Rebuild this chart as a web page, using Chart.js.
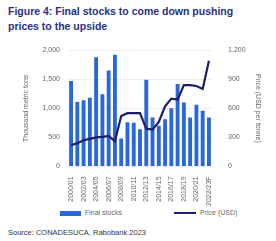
<!DOCTYPE html>
<html>
<head>
<meta charset="utf-8">
<script src="https://cdn.jsdelivr.net/npm/chart.js@4.4.0/dist/chart.umd.min.js"></script>
<style>
  html, body { margin: 0; padding: 0; background: #fff; }
  body { width: 276px; height: 241px; position: relative; overflow: hidden; font-family: "Liberation Sans", Arial, sans-serif; }
  #title { position: absolute; left: 8px; top: 4px; width: 265px; font-size: 10.5px; font-weight: bold; line-height: 15px; color: #2b2f86; }
  #source { position: absolute; left: 8px; top: 228px; font-size: 7.5px; color: #333; }
  #wrap { position: absolute; left: 0; top: 38px; width: 276px; height: 170px; }
  .lg { position: absolute; top: 209px; font-size: 7px; color: #666; line-height: 8px; }
  .lg i { display: inline-block; vertical-align: middle; margin-right: 4px; }
</style>
</head>
<body>
<div id="title">Figure 4: Final stocks to come down pushing<br>prices to the upside</div>
<div id="wrap"><canvas id="chart"></canvas></div>
<div class="lg" style="left:60px"><i style="width:21px;height:5px;background:#2a66dc"></i>Final stocks</div>
<div class="lg" style="left:174px"><i style="width:22px;height:2px;background:#1b1f6b"></i>Price (USD)</div>
<div id="source">Source: CONADESUCA, Rabobank 2023</div>
<script>
// marketing years 2000/01 .. 2022/23F
const seasons = [
  "2000/01", "2001/02", "2002/03", "2003/04", "2004/05", "2005/06", "2006/07", "2007/08",
  "2008/09", "2009/10", "2010/11", "2011/12", "2012/13", "2013/14", "2014/15", "2015/16",
  "2016/17", "2017/18", "2018/19", "2019/20", "2020/21", "2021/22", "2022/23F"
];
// final stocks, thousand metric tons (left axis)
const finalStocks = [1470, 1110, 1140, 1180, 1880, 1240, 1650, 1920, 480, 760, 750, 640,
  1490, 840, 700, 810, 1000, 1420, 1100, 840, 1060, 960, 840];
// price, USD per tonne (right axis)
const priceUsd = [220, 240, 270, 285, 300, 305, 315, 260, 520, 550, 550, 550,
  390, 380, 460, 620, 700, 690, 840, 840, 830, 800, 1090];
const leftTicks = [0, 500, 1000, 1500, 2000];
const rightTicks = [0, 300, 600, 900, 1200];

const tickFont = { family: "Liberation Sans", size: 7 };
const grey = "#666";

new Chart(document.getElementById("chart"), {
  data: {
    labels: seasons,
    datasets: [
      {
        type: "line", label: "Price (USD)", data: priceUsd, yAxisID: "yR",
        borderColor: "#1b1f6b", borderWidth: 2.2, pointRadius: 0, tension: 0, order: 0
      },
      {
        type: "bar", label: "Final stocks", data: finalStocks, yAxisID: "yL",
        backgroundColor: "#2a66dc", barPercentage: 0.62, categoryPercentage: 1, order: 1
      }
    ]
  },
  options: {
    responsive: true, maintainAspectRatio: false, animation: false,
    layout: { padding: { left: 22, right: 6, top: 11, bottom: 0 } },
    plugins: { tooltip: { enabled: false }, legend: { display: false } },
    scales: {
      x: {
        grid: { display: false }, border: { display: false },
        ticks: {
          font: tickFont, color: grey, maxRotation: 90, minRotation: 90, autoSkip: false, padding: 2,
          callback: (v, i) => i % 2 === 0 ? seasons[i] : ""
        }
      },
      yL: {
        position: "left", min: 0, max: 2000,
        afterBuildTicks: s => { s.ticks = leftTicks.map(v => ({ value: v })); },
        grid: { color: "#eeeeee", drawTicks: false }, border: { display: false },
        ticks: { font: tickFont, color: grey, padding: 8, callback: v => v.toLocaleString("en-US") },
        title: { display: true, text: "Thousand metric tons", font: tickFont, color: grey, padding: { top: 0, bottom: 4 } }
      },
      yR: {
        position: "right", min: 0, max: 1200,
        afterBuildTicks: s => { s.ticks = rightTicks.map(v => ({ value: v })); },
        grid: { display: false }, border: { display: false },
        ticks: { font: tickFont, color: grey, padding: 8, callback: v => v.toLocaleString("en-US") },
        title: { display: true, text: "Price (USD per tonne)", font: tickFont, color: grey, padding: { top: 8, bottom: 0 } }
      }
    }
  }
});
</script>
</body>
</html>
